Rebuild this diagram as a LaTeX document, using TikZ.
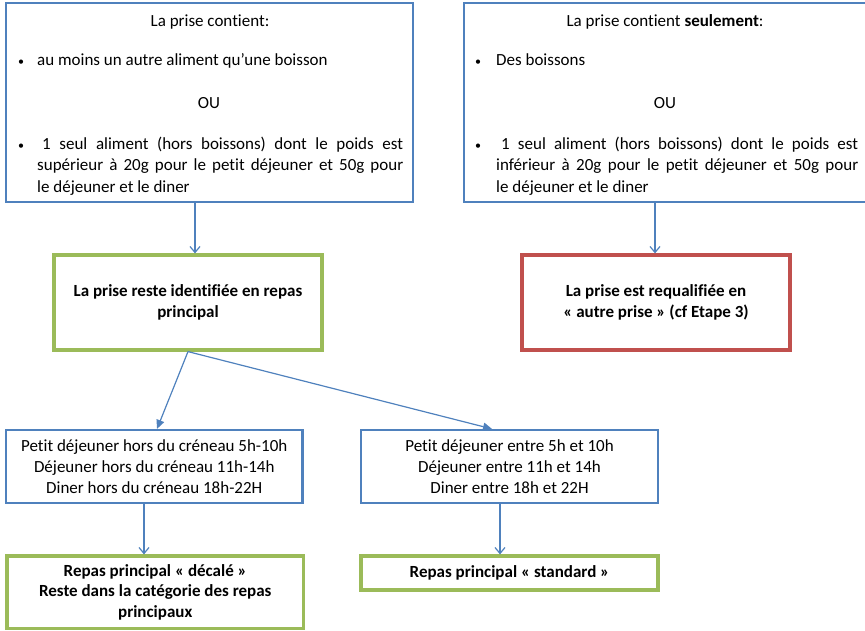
\documentclass[tikz,border=0pt]{standalone}
\usepackage{fontspec}
\setmainfont{Carlito}[RawFeature={-liga;-clig;-dlig}]
\usetikzlibrary{arrows.meta}
\definecolor{oblue}{HTML}{4F81BD}
\definecolor{ogreen}{HTML}{9BBB59}
\definecolor{ored}{HTML}{C0504D}
\newcommand{\smbul}{{\fontsize{12}{12}\selectfont\textbullet}}
\begin{document}
\begin{tikzpicture}[x=1pt,y=-1pt,
  font=\fontsize{17}{21}\selectfont,
  bluebox/.style={draw=oblue, line width=2.2pt, rectangle, inner sep=0pt, align=center},
  greenbox/.style={draw=ogreen, line width=3.2pt, rectangle, inner sep=0pt, align=center, font=\fontsize{17}{21}\selectfont\bfseries},
  redbox/.style={draw=ored, line width=3.2pt, rectangle, inner sep=0pt, align=center, font=\fontsize{17}{21}\selectfont\bfseries},
  txt/.style={inner sep=0pt, anchor=base west},
  ctxt/.style={inner sep=0pt, anchor=base},
  varr/.style={draw=oblue, line width=1.2pt, -{Straight Barb[length=6pt,width=10pt,line width=1.2pt]}},
  darr/.style={draw=oblue, line width=1.2pt, -{Triangle[length=9pt,width=8pt]}}]
\useasboundingbox (0,0) rectangle (865,630);

% top boxes
\node[bluebox, minimum width=407pt, minimum height=199pt] (A) at (209.5,102.5) {};
\node[bluebox, minimum width=402.5pt, minimum height=199pt] (B) at (665.25,102.5) {};

% texts in box A
\node[ctxt] (At) at (210,26) {La prise contient:};
\node[ctxt] (Ab1) at (21,65) {\smbul};
\node[txt] (Al1) at (37,65) {au moins un autre aliment qu’une boisson};
\node[ctxt] (Aou) at (209,108) {OU};
\node[ctxt] (Ab2) at (21,149) {\smbul};
\node[txt] (Al2) at (42,149) {\makebox[361pt][s]{1 seul aliment (hors boissons) dont le poids est}};
\node[txt] (Al3) at (37,170) {\makebox[366pt][s]{supérieur à 20g pour le petit déjeuner et 50g pour}};
\node[txt] (Al4) at (37,192) {le déjeuner et le diner};

% texts in box B
\node[ctxt] (Bt) at (665,26) {La prise contient \textbf{seulement}:};
\node[ctxt] (Bb1) at (478,65) {\smbul};
\node[txt] (Bl1) at (496,65) {Des boissons};
\node[ctxt] (Bou) at (665,108) {OU};
\node[ctxt] (Bb2) at (478,149) {\smbul};
\node[txt] (Bl2) at (501,149) {\makebox[357pt][s]{1 seul aliment (hors boissons) dont le poids est}};
\node[txt] (Bl3) at (496,170) {\makebox[362pt][s]{inférieur à 20g pour le petit déjeuner et 50g pour}};
\node[txt] (Bl4) at (496,192) {le déjeuner et le diner};

% middle boxes
\node[greenbox, minimum width=268pt, minimum height=95pt] (G1) at (188,302.5) {La prise reste identifiée en repas\\principal};
\node[redbox, minimum width=268pt, minimum height=95pt] (R) at (656,302.5) {La prise est requalifiée en\\« autre prise » (cf Etape 3)};

% lower boxes
\node[bluebox, minimum width=296.5pt, minimum height=73pt] (BL) at (154.25,466.5) {Petit déjeuner hors du créneau 5h-10h\\Déjeuner hors du créneau 11h-14h\\Diner hors du créneau 18h-22H};
\node[bluebox, minimum width=297pt, minimum height=73pt] (BR) at (509.5,466.5) {Petit déjeuner entre 5h et 10h\\Déjeuner entre 11h et 14h\\Diner entre 18h et 22H};

% bottom boxes
\node[greenbox, minimum width=296.5pt, minimum height=72.5pt, font=\fontsize{17}{20.5}\selectfont\bfseries] (GL) at (155.25,592.25) {Repas principal « décalé »\\Reste dans la catégorie des repas\\principaux};
\node[greenbox, minimum width=297pt, minimum height=34pt] (GR) at (509.5,573) {Repas principal « standard »};

% connector x positions
\coordinate (xa) at (195,0);
\coordinate (xb) at (655,0);
\coordinate (xc) at (157,0);
\coordinate (xd) at (492,0);
\coordinate (xe) at (144,0);
\coordinate (xf) at (500,0);

\draw[varr] (xa |- A.south) -- (xa |- G1.north);
\draw[varr] (xb |- B.south) -- (xb |- R.north);
\draw[darr] (G1.south) -- (xc |- BL.north);
\draw[darr] (G1.south) -- (xd |- BR.north);
\draw[varr] (xe |- BL.south) -- (xe |- GL.north);
\draw[varr] (xf |- BR.south) -- (xf |- GR.north);
\end{tikzpicture}
\end{document}
